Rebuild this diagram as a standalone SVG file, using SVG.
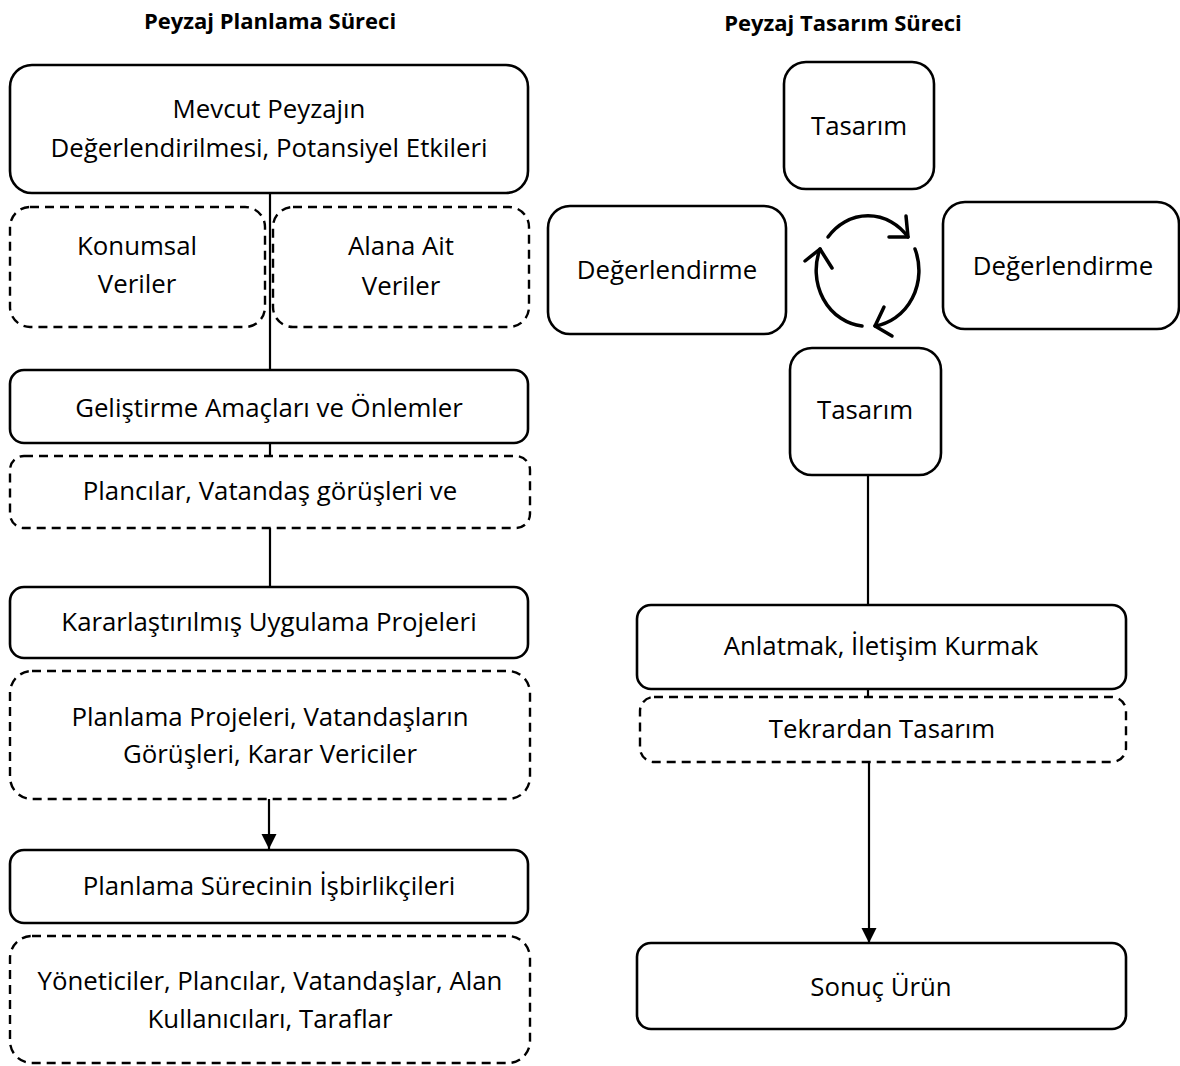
<svg xmlns="http://www.w3.org/2000/svg" width="1180" height="1066" viewBox="0 0 1180 1066">
<defs>
<style>
.box{fill:#fff;stroke:#000;stroke-width:2.6}
.dash{fill:#fff;stroke:#000;stroke-width:2.4;stroke-dasharray:9 6}
.t{font-family:"Open Sans","Noto Sans","Liberation Sans",sans-serif;font-size:25.8px;fill:#000;text-anchor:middle}
.h{font-family:"Open Sans","Noto Sans","Liberation Sans",sans-serif;font-size:22px;font-weight:bold;fill:#000;text-anchor:middle}
.ln{fill:none;stroke:#000;stroke-width:2.2}
.cyc{fill:none;stroke:#000;stroke-width:3.5;stroke-linecap:round;stroke-linejoin:round}
</style>
<marker id="ah" markerUnits="userSpaceOnUse" markerWidth="16" markerHeight="16" viewBox="0 0 16 16" refX="15" refY="8" orient="auto">
<path d="M0,0.5 L15,8 L0,15.5 Z" fill="#000"/>
</marker>
</defs>
<rect width="1180" height="1066" fill="#fff"/>

<text class="h" x="270" y="29">Peyzaj Planlama Süreci</text>
<text class="h" x="843" y="31">Peyzaj Tasarım Süreci</text>

<g id="connectors">
<line class="ln" x1="270" y1="193" x2="270" y2="370"/>
<line class="ln" x1="270" y1="443" x2="270" y2="456"/>
<line class="ln" x1="270" y1="528" x2="270" y2="587"/>
<line class="ln" x1="269" y1="799" x2="269" y2="849" marker-end="url(#ah)"/>
<line class="ln" x1="868" y1="475" x2="868" y2="605"/>
<line class="ln" x1="868" y1="689" x2="868" y2="697"/>
<line class="ln" x1="869" y1="762" x2="869" y2="943" marker-end="url(#ah)"/>
<path class="cyc" d="M828 237 A51 56 0 0 1 908 237"/>
<path class="cyc" d="M906 216 L908 237 L889 237"/>
<path class="cyc" d="M915 249 A51 56 0 0 1 875 326"/>
<path class="cyc" d="M884 307 L875 326 L892 336"/>
<path class="cyc" d="M862 326 A51 56 0 0 1 820 249"/>
<path class="cyc" d="M805 261 L820 249 L832 268"/>
</g>

<g id="n-mevcut">
<rect class="box" x="10" y="65" width="518" height="128" rx="22"/>
<text class="t" x="269" y="118">Mevcut Peyzajın</text>
<text class="t" x="269" y="157">Değerlendirilmesi, Potansiyel Etkileri</text>
</g>
<g id="n-konumsal">
<rect class="dash" x="10" y="207" width="255" height="120" rx="20"/>
<text class="t" x="137" y="255">Konumsal</text>
<text class="t" x="137" y="293">Veriler</text>
</g>
<g id="n-alana">
<rect class="dash" x="273" y="207" width="256" height="120" rx="20"/>
<text class="t" x="401" y="255">Alana Ait</text>
<text class="t" x="401" y="295">Veriler</text>
</g>
<g id="n-gelistirme">
<rect class="box" x="10" y="370" width="518" height="73" rx="14"/>
<text class="t" x="269" y="417">Geliştirme Amaçları ve Önlemler</text>
</g>
<g id="n-plancilar">
<rect class="dash" x="10" y="456" width="520" height="72" rx="14"/>
<text class="t" x="270" y="500">Plancılar, Vatandaş görüşleri ve</text>
</g>
<g id="n-kararlastirilmis">
<rect class="box" x="10" y="587" width="518" height="71" rx="14"/>
<text class="t" x="269" y="631">Kararlaştırılmış Uygulama Projeleri</text>
</g>
<g id="n-planlama-projeleri">
<rect class="dash" x="10" y="671" width="520" height="128" rx="22"/>
<text class="t" x="270" y="726">Planlama Projeleri, Vatandaşların</text>
<text class="t" x="270" y="763">Görüşleri, Karar Vericiler</text>
</g>
<g id="n-isbirlikciler">
<rect class="box" x="10" y="850" width="518" height="73" rx="14"/>
<text class="t" x="269" y="895">Planlama Sürecinin İşbirlikçileri</text>
</g>
<g id="n-yoneticiler">
<rect class="dash" x="10" y="936" width="520" height="127" rx="22"/>
<text class="t" x="270" y="990">Yöneticiler, Plancılar, Vatandaşlar, Alan</text>
<text class="t" x="270" y="1028">Kullanıcıları, Taraflar</text>
</g>

<g id="n-tasarim-top">
<rect class="box" x="784" y="62" width="150" height="127" rx="22"/>
<text class="t" x="859" y="135">Tasarım</text>
</g>
<g id="n-degerlendirme-left">
<rect class="box" x="548" y="206" width="238" height="128" rx="22"/>
<text class="t" x="667" y="279">Değerlendirme</text>
</g>
<g id="n-degerlendirme-right">
<rect class="box" x="943" y="202" width="236" height="127" rx="22"/>
<text class="t" x="1063" y="275">Değerlendirme</text>
</g>
<g id="n-tasarim-bottom">
<rect class="box" x="790" y="348" width="151" height="127" rx="22"/>
<text class="t" x="865" y="419">Tasarım</text>
</g>
<g id="n-anlatmak">
<rect class="box" x="637" y="605" width="489" height="84" rx="14"/>
<text class="t" x="881" y="655">Anlatmak, İletişim Kurmak</text>
</g>
<g id="n-tekrardan">
<rect class="dash" x="640" y="697" width="486" height="65" rx="14"/>
<text class="t" x="882" y="738">Tekrardan Tasarım</text>
</g>
<g id="n-sonuc">
<rect class="box" x="637" y="943" width="489" height="86" rx="14"/>
<text class="t" x="881" y="996">Sonuç Ürün</text>
</g>
</svg>
